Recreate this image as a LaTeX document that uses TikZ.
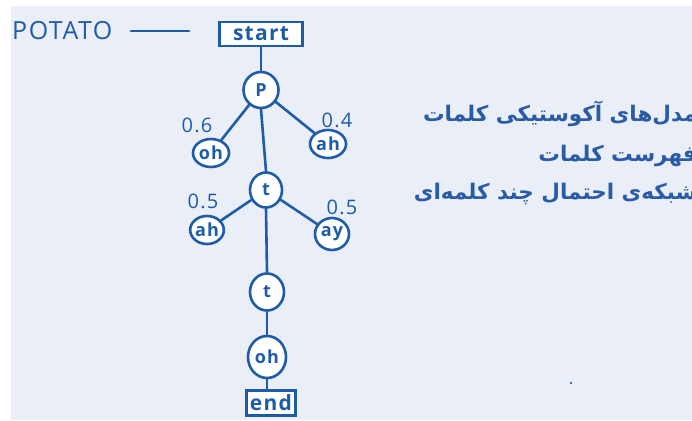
\documentclass[tikz,border=0pt]{standalone}
\usepackage{fontspec}
\setmainfont{Open Sans}
\newfontfamily\handfont[LetterSpace=6]{Open Sans}
\newfontfamily\arabicfont[Script=Arabic]{DejaVu Sans}
\TeXXeTstate=1
\definecolor{ink}{HTML}{1F5CA8}
\definecolor{panel}{HTML}{E9EEF7}
\definecolor{heading}{HTML}{2A5CA6}
\tikzset{
  pen/.style={draw=ink, line width=2.6pt, line cap=round},
  phone/.style={pen, ellipse, fill=white, inner sep=0pt, text=ink,
                font=\handfont\bfseries\fontsize{18}{19}\selectfont},
  wordbox/.style={pen, rectangle, fill=white, text=ink, inner sep=0pt,
                  font=\handfont\bfseries\fontsize{21}{22}\selectfont},
  prob/.style={text=ink, font=\handfont\fontsize{20}{21}\selectfont, inner sep=0pt},
  persian/.style={anchor=east, text=heading, inner sep=0pt,
                  font=\arabicfont\bfseries\fontsize{21.5}{24}\selectfont}
}
\usetikzlibrary{shapes.geometric}
\begin{document}
\begin{tikzpicture}[x=1pt,y=-1pt]
  \useasboundingbox (0,0) rectangle (692,420);
  \clip (0,0) rectangle (692,420);
  \fill[white] (0,0) rectangle (692,420);
  \fill[panel] (11,6) rectangle (692,420);

  % word label and its lead line
  \node[text=ink, font=\handfont\fontsize{25}{26}\selectfont, inner sep=0pt,
        anchor=west] (word) at (12,31) {POTATO};
  \coordinate (leadA) at (131,31);
  \coordinate (leadB) at (189,31);
  \draw[pen] (leadA) -- (leadB);

  % pronunciation network
  \node[wordbox, minimum width=83pt, minimum height=24pt] (start) at (261,34) {start};
  \node[phone, minimum width=35pt, minimum height=36pt] (p) at (261,90) {P};
  \node[phone, minimum width=36pt, minimum height=28pt] (oh1) at (211,153) {oh};
  \node[phone, minimum width=36pt, minimum height=28pt] (ah1) at (328,144) {ah};
  \node[phone, minimum width=32pt, minimum height=35pt] (t1) at (266,190) {t};
  \node[phone, minimum width=32pt, minimum height=28pt] (ah2) at (207,230) {ah};
  \node[phone, minimum width=34pt, minimum height=32pt] (ay) at (332,234) {ay};
  \node[phone, minimum width=34pt, minimum height=37pt] (t2) at (267,292) {t};
  \node[phone, minimum width=38pt, minimum height=42pt] (oh2) at (267,357) {oh};
  \node[wordbox, minimum width=49pt, minimum height=25pt] (end) at (271,403) {end};

  \draw[pen] (start) -- (p);
  \draw[pen] (p) -- (oh1);
  \draw[pen] (p) -- (ah1);
  \draw[pen] (p.south) -- (t1.north);
  \draw[pen] (t1) -- (ah2);
  \draw[pen] (t1) -- (ay);
  \draw[pen] (t1.south) -- (t2.north);
  \draw[pen] (t2) -- (oh2);
  \draw[pen] (oh2.south) -- (oh2.south |- end.north);

  % branch probabilities
  \node[prob] (p06) at (197,125) {0.6};
  \node[prob] (p04) at (337,120) {0.4};
  \node[prob] (p05a) at (203,201) {0.5};
  \node[prob] (p05b) at (342,207) {0.5};

  % Persian headings
  \node[persian] (h1) at (697,114) {\beginR مدل‌های آکوستیکی کلمات\endR};
  \node[persian] (h2) at (697,156) {\beginR فهرست کلمات\endR};
  \node[persian] (h3) at (697,194) {\beginR شبکه‌ی احتمال چند کلمه‌ای\endR};

  % stray mark
  \fill[ink!70!black] (571,383) circle (1.2pt);
\end{tikzpicture}
\end{document}
